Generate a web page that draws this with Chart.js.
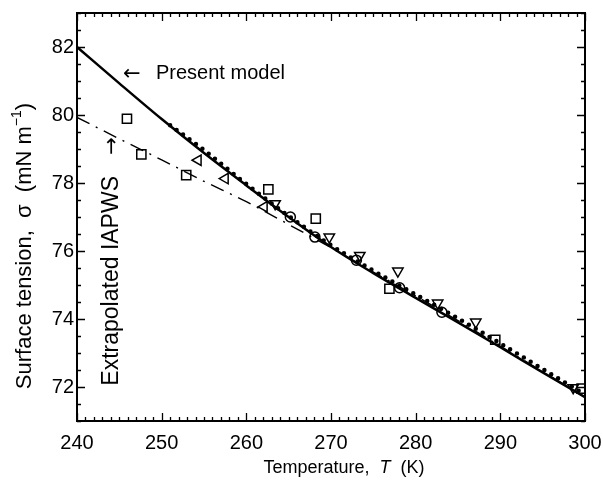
<!DOCTYPE html>
<html>
<head>
<meta charset="utf-8">
<script src="https://cdn.jsdelivr.net/npm/chart.js@4.4.0/dist/chart.umd.min.js"></script>
<style>
  html, body { margin: 0; padding: 0; background: #fff; }
  #c { display: block; }
</style>
</head>
<body>
<canvas id="c" width="603" height="480"></canvas>
<script>
// ---- Data ----
const xTickLabels = [240, 250, 260, 270, 280, 290, 300];
const yTickLabels = [72, 74, 76, 78, 80, 82];

// Present model (solid line)
const modelT     = [240, 245, 250, 255, 260, 265, 270, 275, 280, 285, 290, 295, 300];
const modelSigma = [82.0, 80.93, 79.88, 78.88, 77.93, 77.0, 76.12, 75.35, 74.62, 73.9, 73.17, 72.43, 71.7];

// Extrapolated IAPWS (dash-dot line)
const iapwsT     = [240, 245, 250, 255, 260, 265, 270, 275, 280, 285, 290, 295, 300];
const iapwsSigma = [79.93, 79.3, 78.68, 78.05, 77.45, 76.78, 76.1, 75.38, 74.68, 73.95, 73.2, 72.45, 71.7];

// Dotted curve
const dottedT     = [251, 255, 260, 265, 270, 275, 280, 285, 290, 295, 300];
const dottedSigma = [79.7, 78.97, 77.97, 77.03, 76.17, 75.42, 74.72, 74.02, 73.28, 72.53, 71.78];

// Measurements: open squares
const squareT     = [245.9, 247.6, 252.9, 262.6, 268.2, 276.9, 289.4, 299.6];
const squareSigma = [79.89, 78.84, 78.23, 77.81, 76.95, 74.89, 73.39, 71.95];

// Open left-pointing triangles
const triLeftT     = [254.3, 257.5, 262.1];
const triLeftSigma = [78.67, 78.13, 77.3];

// Open down-pointing triangles
const triDownT     = [263.4, 269.8, 273.4, 277.9, 282.6, 287.1, 298.6];
const triDownSigma = [77.39, 76.41, 75.87, 75.41, 74.47, 73.91, 71.98];

// Open circles
const circleT     = [265.2, 268.1, 273.0, 278.1, 283.1];
const circleSigma = [77.0, 76.41, 75.73, 74.92, 74.2];

const pts = (xs, ys) => xs.map((x, i) => ({ x: x, y: ys[i] }));

const FONT = '"Liberation Sans", Arial, Helvetica, sans-serif';
const ARROWFONT = '"DejaVu Sans", sans-serif';

const framePlugin = {
  id: 'frame',
  afterDraw(chart) {
    const ctx = chart.ctx;
    const { left, right, top, bottom } = chart.chartArea;
    const xs = chart.scales.x, ys = chart.scales.y;
    ctx.save();
    ctx.strokeStyle = '#000';
    ctx.lineWidth = 1.3;
    for (let t = xs.min; t <= xs.max + 1e-9; t += 1) {
      const px = Math.round(xs.getPixelForValue(t)) + 0.5;
      const major = xTickLabels.includes(Math.round(t));
      const len = major ? 8 : 4;
      ctx.beginPath();
      ctx.moveTo(px, bottom); ctx.lineTo(px, bottom - len);
      ctx.moveTo(px, top); ctx.lineTo(px, top + len);
      ctx.stroke();
    }
    for (let v = ys.min; v <= ys.max + 1e-9; v += 0.5) {
      const py = Math.round(ys.getPixelForValue(v)) + 0.5;
      const major = yTickLabels.includes(v);
      const len = major ? 8 : 4;
      ctx.beginPath();
      ctx.moveTo(left, py); ctx.lineTo(left + len, py);
      ctx.moveTo(right, py); ctx.lineTo(right - len, py);
      ctx.stroke();
    }
    ctx.lineWidth = 2;
    ctx.strokeRect(left, top, right - left, bottom - top);

    ctx.fillStyle = '#000';
    // x title with italic T
    const xParts = [['Temperature,  ', '18px ' + FONT], ['T', 'italic 18px ' + FONT], ['  (K)', '18px ' + FONT]];
    let w = 0;
    xParts.forEach(p => { ctx.font = p[1]; w += ctx.measureText(p[0]).width; });
    let x0 = 344 - w / 2;
    ctx.textBaseline = 'middle';
    ctx.textAlign = 'left';
    xParts.forEach(p => { ctx.font = p[1]; ctx.fillText(p[0], x0, 468); x0 += ctx.measureText(p[0]).width; });

    // y title, rotated, with superscript
    ctx.save();
    ctx.translate(25, 246);
    ctx.rotate(-Math.PI / 2);
    const yParts = [['Surface tension,  ', '22px ' + FONT, 0], ['σ', '22px ' + FONT, 0], ['  (mN m', '22px ' + FONT, 0], ['−1', '14px ' + FONT, -8], [')', '22px ' + FONT, 0]];
    w = 0;
    yParts.forEach(p => { ctx.font = p[1]; w += ctx.measureText(p[0]).width; });
    x0 = -w / 2;
    yParts.forEach(p => { ctx.font = p[1]; ctx.fillText(p[0], x0, p[2]); x0 += ctx.measureText(p[0]).width; });
    ctx.restore();

    // annotation: Present model
    ctx.textBaseline = 'middle';
    ctx.font = '21px ' + ARROWFONT;
    ctx.fillText('\u2190', 123, 75);
    ctx.font = '20px ' + FONT;
    ctx.fillText('Present model', 156, 73);

    // annotation: Extrapolated IAPWS
    ctx.save();
    ctx.font = '23px ' + FONT;
    ctx.translate(112, 176);
    ctx.rotate(-Math.PI / 2);
    ctx.textAlign = 'right';
    ctx.fillText('Extrapolated IAPWS', 0, 0);
    ctx.restore();
    ctx.save();
    ctx.font = '21px ' + ARROWFONT;
    ctx.translate(112, 146);
    ctx.rotate(-Math.PI / 2);
    ctx.textAlign = 'center';
    ctx.fillText('\u2192', 0, 1);
    ctx.restore();
    ctx.restore();
  }
};

const openPoint = (style, rot, r) => ({
  showLine: false,
  pointStyle: style,
  rotation: rot,
  pointRadius: r,
  pointBorderWidth: 1.5,
  borderColor: '#000',
  pointBorderColor: '#000',
  backgroundColor: 'rgba(0,0,0,0)',
  pointBackgroundColor: 'rgba(0,0,0,0)'
});

new Chart(document.getElementById('c'), {
  type: 'scatter',
  data: {
    datasets: [
      { label: 'Present model', data: pts(modelT, modelSigma), showLine: true, borderColor: '#000', borderWidth: 2.5, pointRadius: 0, cubicInterpolationMode: 'monotone', fill: false },
      { label: 'Extrapolated IAPWS', data: pts(iapwsT, iapwsSigma), showLine: true, borderColor: '#000', borderWidth: 1.4, borderDash: [14, 7, 2, 7], pointRadius: 0, cubicInterpolationMode: 'monotone', fill: false },
      { label: 'Dotted', data: pts(dottedT, dottedSigma), showLine: true, borderColor: '#000', borderWidth: 4.5, borderDash: [0, 8], borderCapStyle: 'round', pointRadius: 0, cubicInterpolationMode: 'monotone', fill: false },
      Object.assign({ label: 'Squares', data: pts(squareT, squareSigma) }, openPoint('rect', 0, 6.5)),
      Object.assign({ label: 'Triangles left', data: pts(triLeftT, triLeftSigma) }, openPoint('triangle', 270, 6)),
      Object.assign({ label: 'Triangles down', data: pts(triDownT, triDownSigma) }, openPoint('triangle', 180, 6)),
      Object.assign({ label: 'Circles', data: pts(circleT, circleSigma) }, openPoint('circle', 0, 5))
    ]
  },
  options: {
    responsive: false,
    devicePixelRatio: 1,
    animation: false,
    layout: { padding: { left: 0, top: 13, right: 18, bottom: 0 } },
    plugins: { legend: { display: false }, tooltip: { enabled: false } },
    scales: {
      x: {
        type: 'linear', min: 240, max: 300,
        afterBuildTicks: s => { s.ticks = xTickLabels.map(v => ({ value: v })); },
        afterFit: s => { s.height = 59; s.paddingLeft = 0; s.paddingRight = 0; },
        grid: { display: false, drawTicks: false },
        border: { display: false },
        ticks: { color: '#000', font: { family: FONT, size: 20 }, padding: 10, maxRotation: 0 }
      },
      y: {
        type: 'linear', min: 71, max: 83,
        afterBuildTicks: s => { s.ticks = yTickLabels.map(v => ({ value: v })); },
        afterFit: s => { s.width = 77; s.paddingTop = 0; s.paddingBottom = 0; },
        grid: { display: false, drawTicks: false },
        border: { display: false },
        ticks: { color: '#000', font: { family: FONT, size: 20 }, padding: 3 }
      }
    }
  },
  plugins: [framePlugin]
});
</script>
</body>
</html>
